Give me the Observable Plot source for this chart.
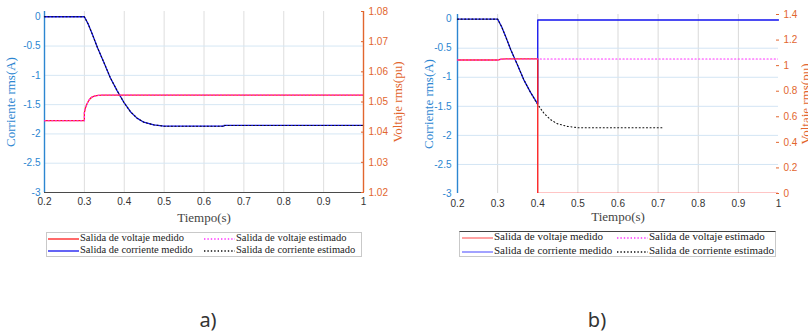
<!DOCTYPE html>
<html>
<head>
<meta charset="utf-8">
<script src="https://cdn.jsdelivr.net/npm/d3@7"></script>
<script src="https://cdn.jsdelivr.net/npm/@observablehq/plot@0.6"></script>
<style>
  body { margin: 0; background: #fff; }
  #fig { position: relative; width: 808px; height: 331px; overflow: hidden; background: #fff; }
  .panel { position: absolute; top: 0; height: 230px; }
  .panel svg { position: absolute; left: 0; top: 0; }
  .legend { position: absolute; background: #fff; border: 1px solid #c9c9c9; box-sizing: border-box;
            font-family: "Liberation Serif", serif; color: #222; }
  .legend .item { position: absolute; white-space: nowrap; line-height: 1; }
  .legend svg { position: absolute; }
  .cap { position: absolute; font-family: "Noto Sans", sans-serif; font-size: 20px; color: #333;
         transform: translate(-50%, -50%); }
</style>
</head>
<body>
<div id="fig"></div>
<script>
// ---- shared ticks and labels ----
const xTicks = [0.2, 0.3, 0.4, 0.5, 0.6, 0.7, 0.8, 0.9, 1];
const currentTicks = [-3, -2.5, -2, -1.5, -1, -0.5, 0];
const voltageTicksA = [1.02, 1.03, 1.04, 1.05, 1.06, 1.07, 1.08];
const voltageTicksB = [0, 0.2, 0.4, 0.6, 0.8, 1, 1.2, 1.4];
const seriesNames = ["Salida de voltaje medido", "Salida de voltaje estimado",
                     "Salida de corriente medido", "Salida de corriente estimado"];
const panelCaptions = ["a)", "b)"];

// ---- panel a: current (A) ----
const tCurrMedA = [0.2, 0.3, 0.31, 0.32, 0.333, 0.349, 0.365, 0.382, 0.399, 0.4155, 0.432, 0.449, 0.474, 0.5, 0.65, 0.65, 1.0];
const iCurrMedA = [0, 0, -0.13, -0.30, -0.53, -0.78, -1.04, -1.26, -1.46, -1.62, -1.73, -1.80, -1.845, -1.868, -1.868, -1.855, -1.855];
const tCurrEstA = [0.2, 0.3, 0.31, 0.32, 0.333, 0.349, 0.365, 0.382, 0.399, 0.4155, 0.432, 0.449, 0.474, 0.5, 0.65, 0.65, 1.0];
const iCurrEstA = [0, 0, -0.13, -0.30, -0.53, -0.78, -1.04, -1.26, -1.46, -1.62, -1.73, -1.80, -1.845, -1.868, -1.868, -1.855, -1.855];
// ---- panel a: voltage (pu) ----
const tVoltMedA = [0.2, 0.3, 0.3, 0.303, 0.307, 0.311, 0.315, 0.32, 0.327, 0.335, 0.345, 1.0];
const vVoltMedA = [1.0438, 1.0438, 1.0465, 1.0482, 1.0495, 1.0505, 1.0512, 1.0517, 1.052, 1.0522, 1.0523, 1.0523];
const tVoltEstA = [0.2, 0.3, 0.3, 0.303, 0.307, 0.311, 0.315, 0.32, 0.327, 0.335, 0.345, 1.0];
const vVoltEstA = [1.0438, 1.0438, 1.0465, 1.0482, 1.0495, 1.0505, 1.0512, 1.0517, 1.052, 1.0522, 1.0523, 1.0523];

// ---- panel b: current (A) ----
const tCurrMedB = [0.2, 0.3, 0.31, 0.32, 0.333, 0.349, 0.365, 0.382, 0.4, 0.4, 1.0];
const iCurrMedB = [0, 0, -0.13, -0.30, -0.53, -0.78, -1.04, -1.26, -1.46, -0.015, -0.015];
const tCurrEstB = [0.2, 0.3, 0.31, 0.32, 0.333, 0.349, 0.365, 0.382, 0.399, 0.4155, 0.432, 0.449, 0.474, 0.5, 0.715];
const iCurrEstB = [0, 0, -0.13, -0.30, -0.53, -0.78, -1.04, -1.26, -1.46, -1.62, -1.73, -1.80, -1.845, -1.868, -1.868];
// ---- panel b: voltage (pu) ----
const tVoltMedB = [0.2, 0.3, 0.305, 0.31, 0.32, 0.4, 0.4, 1.0];
const vVoltMedB = [1.044, 1.044, 1.048, 1.051, 1.0523, 1.0523, 0, 0];
const tVoltEstB = [0.2, 0.3, 0.305, 0.31, 0.32, 1.0];
const vVoltEstB = [1.044, 1.044, 1.048, 1.051, 1.0523, 1.0523];

const pts = (t, v) => t.map((x, i) => ({t: x, v: v[i]}));

const blueAxis = "#2c86d1";
const orangeAxis = "#e2662e";
const fmt = d => String(d);

function drawPanel(cfg) {
  const host = document.createElement("div");
  host.className = "panel";
  host.style.left = cfg.left + "px";
  host.style.width = cfg.width + "px";
  document.getElementById("fig").appendChild(host);

  const dims = {
    width: cfg.width, height: cfg.height,
    marginLeft: cfg.mL, marginRight: cfg.mR, marginTop: cfg.mT, marginBottom: cfg.mB
  };
  const svgStyle = {background: "transparent", fontFamily: "Liberation Sans, Arial, sans-serif", fontSize: "10px", overflow: "visible"};
  const titleFont = {fontFamily: "Liberation Serif, serif", fontSize: 13, fontWeight: "normal", textAnchor: "middle", lineAnchor: "middle"};

  // Left axis: current, grid, time axis
  const left = Plot.plot({
    ...dims,
    style: svgStyle,
    x: {domain: [0.2, 1]},
    y: {domain: cfg.iDomain},
    marks: [
      Plot.gridX(xTicks.slice(1, -1), {stroke: cfg.gridXColor, strokeOpacity: 1}),
      Plot.gridY(currentTicks.slice(1, -1), {stroke: cfg.gridYColor, strokeOpacity: 1}),
      cfg.bottomLine ? Plot.ruleY([cfg.iDomain[0]], {stroke: "#4a4a4a", strokeWidth: 1}) : null,
      Plot.axisX(xTicks, {tickSize: 0, tickPadding: cfg.xPad, tickFormat: fmt, color: "#333", label: null}),
      Plot.axisY(currentTicks, {anchor: "left", tickSize: 0, tickPadding: cfg.yPadL, tickFormat: fmt, color: blueAxis, label: null}),
      Plot.ruleX([0.2], {stroke: blueAxis, strokeWidth: 1.4}),
      Plot.line(pts(cfg.tCurrMed, cfg.iCurrMed), {x: "t", y: "v", stroke: "#1010f0", strokeWidth: 1.3}),
      Plot.line(pts(cfg.tCurrEst, cfg.iCurrEst), {x: "t", y: "v", stroke: "#111", strokeWidth: 1.1, strokeDasharray: "1,2.6"}),
      Plot.text(["Tiempo(s)"], {frameAnchor: "bottom", dy: cfg.xLabelDy, ...titleFont, fill: "#444"}),
      Plot.text(["Corriente rms(A)"], {frameAnchor: "left", dx: cfg.yLabelDxL, rotate: -90, ...titleFont, fill: blueAxis})
    ]
  });

  // Right axis: voltage
  const right = Plot.plot({
    ...dims,
    style: svgStyle,
    x: {domain: [0.2, 1], axis: null},
    y: {domain: cfg.vDomain, axis: null},
    marks: [
      Plot.axisY(cfg.vTicks, {anchor: "right", tickSize: -3, tickPadding: cfg.yPadR + 3, tickFormat: fmt, color: orangeAxis, label: null}),
      cfg.rightLine ? Plot.ruleX([1], {stroke: orangeAxis, strokeWidth: 1.4}) : null,
      Plot.line(pts(cfg.tVoltMed, cfg.vVoltMed), {x: "t", y: "v", stroke: "#ff1a1a", strokeWidth: 1.3, clip: true}),
      Plot.line(pts(cfg.tVoltEst, cfg.vVoltEst), {x: "t", y: "v", stroke: "#ff33ff", strokeWidth: 1.1, strokeDasharray: "1.2,2.4", clip: true}),
      Plot.text(["Voltaje rms(pu)"], {frameAnchor: "right", dx: cfg.yLabelDxR, rotate: -90, ...titleFont, fill: orangeAxis})
    ]
  });

  host.appendChild(left);
  host.appendChild(right);

  // Legend box below the axes
  const lg = document.createElement("div");
  lg.className = "legend";
  Object.assign(lg.style, {left: cfg.lg.x + "px", top: cfg.lg.y + "px", width: cfg.lg.w + "px", height: cfg.lg.h + "px", fontSize: cfg.lg.fs + "px"});
  if (cfg.lg.topBorder) lg.style.borderTop = "1px solid #444";
  const swatches = [
    {stroke: cfg.lg.red, dash: null},
    {stroke: "#ff33ff", dash: "1.4,2"},
    {stroke: cfg.lg.blue, dash: null},
    {stroke: "#111", dash: "1.4,2"}
  ];
  seriesNames.forEach((name, i) => {
    const col = i % 2, row = Math.floor(i / 2);
    const sx = cfg.lg.colX[col], ty = cfg.lg.rowY[row];
    const sw = swatches[i];
    lg.insertAdjacentHTML("beforeend",
      `<svg width="32" height="6" style="left:${sx}px;top:${ty - 3}px">` +
      `<line x1="0" x2="31" y1="3" y2="3" stroke="${sw.stroke}" stroke-width="1.3" ${sw.dash ? `stroke-dasharray="${sw.dash}"` : ""}/></svg>` +
      `<div class="item" style="left:${sx + 32}px;top:${ty - cfg.lg.fs * 0.55}px">${name}</div>`);
  });
  host.appendChild(lg);
}

drawPanel({
  left: 0, width: 400, height: 225, mL: 44, mR: 37, mT: 11, mB: 33,
  iDomain: [-3, 0.09], vDomain: [1.02, 1.08], vTicks: voltageTicksA,
  gridXColor: "#dedede", gridYColor: "#d6e7f4",
  bottomLine: true, rightLine: true,
  xPad: 5, yPadL: 4, yPadR: 5, xLabelDy: 25, yLabelDxL: -34, yLabelDxR: 34,
  tCurrMed: tCurrMedA, iCurrMed: iCurrMedA, tCurrEst: tCurrEstA, iCurrEst: iCurrEstA,
  tVoltMed: tVoltMedA, vVoltMed: vVoltMedA, tVoltEst: tVoltEstA, vVoltEst: vVoltEstA,
  lg: {x: 46, y: 232, w: 316, h: 25, fs: 10.5, colX: [1, 157], rowY: [5.5, 18], red: "#ff1a1a", blue: "#1010f0", topBorder: false}
});

drawPanel({
  left: 400, width: 408, height: 225, mL: 57, mR: 30, mT: 14, mB: 32,
  iDomain: [-3, 0.08], vDomain: [0, 1.4], vTicks: voltageTicksB,
  gridXColor: "#d9d9d9", gridYColor: "#d3e5f4",
  bottomLine: false, rightLine: false,
  xPad: 6, yPadL: 6, yPadR: 5, xLabelDy: 23, yLabelDxL: -29, yLabelDxR: 27,
  tCurrMed: tCurrMedB, iCurrMed: iCurrMedB, tCurrEst: tCurrEstB, iCurrEst: iCurrEstB,
  tVoltMed: tVoltMedB, vVoltMed: vVoltMedB, tVoltEst: tVoltEstB, vVoltEst: vVoltEstB,
  lg: {x: 59, y: 231, w: 317, h: 26, fs: 11, colX: [2, 157], rowY: [5.5, 19.5], red: "#ff7070", blue: "#7070ff", topBorder: true}
});

// Panel captions
panelCaptions.forEach((c, i) => {
  const d = document.createElement("div");
  d.className = "cap";
  d.textContent = c;
  d.style.left = (i === 0 ? 208 : 597) + "px";
  d.style.top = "319px";
  document.getElementById("fig").appendChild(d);
});
</script>
</body>
</html>
